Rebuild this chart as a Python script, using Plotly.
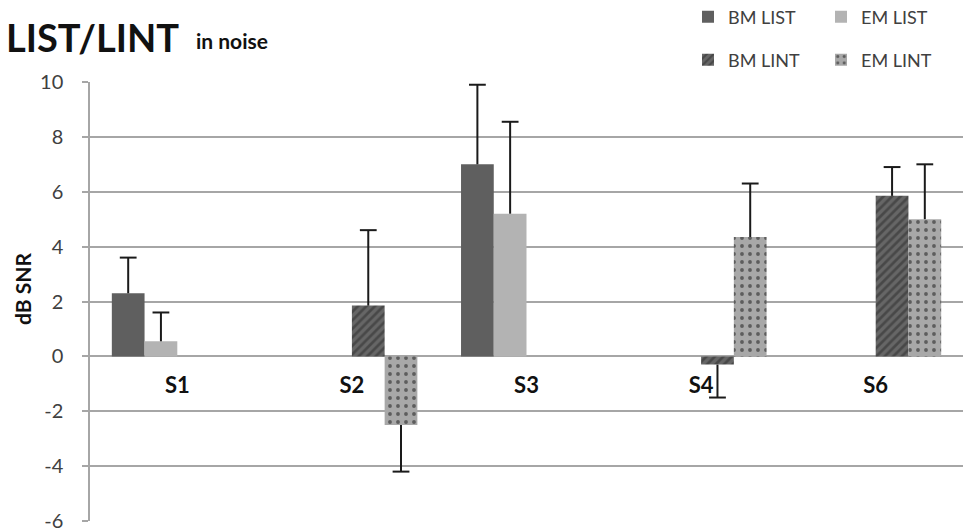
import plotly.graph_objects as go

categories = ["S1", "S2", "S3", "S4", "S6"]
bm_list = [2.3, None, 7.0, None, None]
bm_list_err = [1.3, None, 2.9, None, None]
em_list = [0.55, None, 5.2, None, None]
em_list_err = [1.05, None, 3.35, None, None]
bm_lint = [None, 1.85, None, -0.3, 5.85]
bm_lint_err = [None, 2.75, None, 1.2, 1.05]
em_lint = [None, -2.5, None, 4.35, 5.0]
em_lint_err = [None, 1.7, None, 1.95, 2.0]
y_ticks = [10, 8, 6, 4, 2, 0, -2, -4, -6]

FONT = "Lato, 'Open Sans', sans-serif"
W, H = 964, 532
ML, MR, MT, MB = 90, 1, 82, 11
GAP = 0.25


def stems(vals, errs):
    plus = [(e if (v is not None and v >= 0) else 0) for v, e in zip(vals, errs)]
    minus = [(e if (v is not None and v < 0) else 0) for v, e in zip(vals, errs)]
    return dict(type="data", symmetric=False, array=plus, arrayminus=minus,
                color="#1a1a1a", thickness=2, width=0)


def cap_ends(vals, errs):
    out = []
    for v, e in zip(vals, errs):
        if v is None:
            out.append(None)
        else:
            out.append(v + e if v >= 0 else v - e)
    return out


series = [
    ("BM LIST", bm_list, bm_list_err, dict(color="#5f5f5f", line=dict(width=0)), "legend"),
    ("EM LIST", em_list, em_list_err, dict(color="#b3b3b3", line=dict(width=0)), "legend"),
    ("BM LINT", bm_lint, bm_lint_err,
     dict(color="#555555", line=dict(width=0),
          pattern=dict(shape="/", fgcolor="#2a2a2a", bgcolor="#666666", size=6, solidity=0.45,
                       fillmode="overlay")), "legend2"),
    ("EM LINT", em_lint, em_lint_err,
     dict(color="#a8a8a8", line=dict(width=0),
          pattern=dict(shape=".", fgcolor="#111111", bgcolor="#a8a8a8", size=8, solidity=0.18,
                       fillmode="overlay")), "legend2"),
]

fig = go.Figure()
for name, vals, errs, marker, leg in series:
    fig.add_trace(go.Bar(name=name, x=categories, y=vals, error_y=stems(vals, errs),
                         marker=marker, legend=leg, offsetgroup=name))
for name, vals, errs, marker, leg in series:
    fig.add_trace(go.Scatter(x=categories, y=cap_ends(vals, errs), mode="markers",
                             marker=dict(symbol="line-ew", size=12, line=dict(width=2, color="#1a1a1a")),
                             showlegend=False, hoverinfo="skip", offsetgroup=name))

leg_common = dict(orientation="h", xref="container", yref="container", xanchor="left",
                  yanchor="middle", font=dict(size=18, color="#404040", family=FONT),
                  entrywidth=88, itemwidth=30, bgcolor="rgba(0,0,0,0)", tracegroupgap=0)

fig.update_layout(
    width=W, height=H,
    margin=dict(l=ML, r=MR, t=MT, b=MB, autoexpand=False),
    plot_bgcolor="white", paper_bgcolor="white",
    barmode="group", bargap=GAP, bargroupgap=0,
    scattermode="group", scattergap=GAP,
    font=dict(family=FONT, color="#404040", size=17),
    legend=dict(x=688 / W, y=1 - 17 / H, **leg_common),
    legend2=dict(x=688 / W, y=1 - 60 / H, **leg_common),
    xaxis=dict(anchor="free", position=0.375, showline=False, showgrid=False,
               ticks="", ticklabelstandoff=14,
               tickfont=dict(family=FONT, size=22, color="#111111", weight="bold"),
               fixedrange=True),
    yaxis=dict(range=[-6, 10], tickvals=y_ticks, ticktext=[str(t) for t in y_ticks],
               showgrid=True, gridcolor="#a6a6a6", gridwidth=1.5,
               zeroline=False, showline=True, linecolor="#a6a6a6", linewidth=1.5,
               ticks="outside", ticklen=6, tickcolor="#a6a6a6", tickwidth=1.5,
               tickfont=dict(size=20, color="#404040"), ticklabelstandoff=15),
)

plot_w = W - ML - MR
plot_h = H - MT - MB


def px_x(px):
    return (px - ML) / plot_w


def px_y(py):
    return (H - MB - py) / plot_h


fig.add_annotation(text="<b>LIST/LINT</b>", x=px_x(4), y=px_y(37), xref="paper", yref="paper",
                   showarrow=False, xanchor="left", yanchor="middle",
                   font=dict(size=38, color="#111111", family=FONT))
fig.add_annotation(text="<b>in noise</b>", x=px_x(194), y=px_y(41), xref="paper", yref="paper",
                   showarrow=False, xanchor="left", yanchor="middle",
                   font=dict(size=21, color="#111111", family=FONT))
fig.add_annotation(text="<b>dB SNR</b>", x=px_x(22), y=px_y(289), xref="paper", yref="paper",
                   showarrow=False, xanchor="center", yanchor="middle", textangle=-90,
                   font=dict(size=21, color="#111111", family=FONT))

fig.write_html("out.html")
